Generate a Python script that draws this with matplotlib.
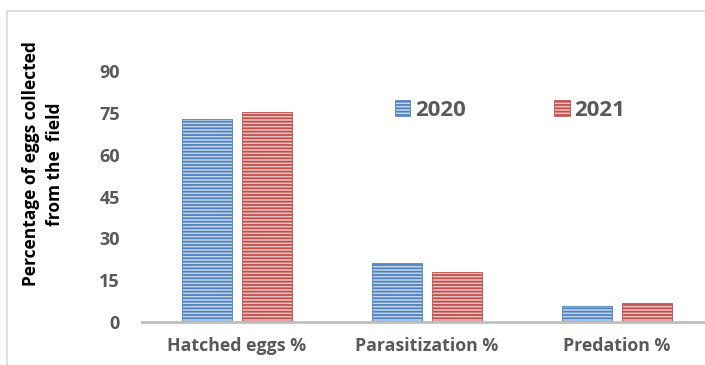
import matplotlib
matplotlib.use("Agg")
import matplotlib.pyplot as plt
import numpy as np
from matplotlib.patches import Rectangle

categories = ["Hatched eggs %", "Parasitization %", "Predation %"]
years = ["2020", "2021"]
values_2020 = [72.7, 21.3, 5.7]
values_2021 = [75.2, 17.9, 6.7]
yticks = [0, 15, 30, 45, 60, 75, 90]

plt.rcParams['font.family'] = ['Open Sans', 'DejaVu Sans']
plt.rcParams['hatch.linewidth'] = 1.3

gray = '#595959'
blue, blue_light = '#4F81BD', '#C5D6EC'
red, red_light = '#C0504D', '#EBC3C2'

fig = plt.figure(figsize=(7.05, 3.65), dpi=100)
W, H = 705, 365
ax = fig.add_axes([142 / W, 1 - 322 / H, (W - 142) / W, (322 - 71) / H])

x = np.arange(len(categories))
bw = 50 / 190
off = 30 / 190
ax.bar(x - off, values_2020, bw, facecolor=blue_light, edgecolor=blue,
       linewidth=0.6, hatch='-----', label=years[0])
ax.bar(x + off, values_2021, bw, facecolor=red_light, edgecolor=red,
       linewidth=0.6, hatch='-----', label=years[1])

ax.set_xlim(-0.5, 2.5 - 7 / 190)
ax.set_ylim(0, 90)
ax.set_yticks(yticks)
ax.set_xticks(x)
ax.set_xticklabels(categories)
ax.tick_params(axis='x', length=0, colors=gray, labelsize=12.8, pad=11)
ax.tick_params(axis='y', length=0, colors=gray, labelsize=13, pad=16)
for lab in ax.get_xticklabels() + ax.get_yticklabels():
    lab.set_fontweight('bold')

for s in ['top', 'right', 'left']:
    ax.spines[s].set_visible(False)
ax.spines['bottom'].set_color('#BFBFBF')
ax.spines['bottom'].set_linewidth(2)
ax.spines['bottom'].set_clip_on(False)

leg = ax.legend(ncol=2, loc='center', bbox_to_anchor=(510 / W, 1 - 110 / H),
                bbox_transform=fig.transFigure, frameon=False,
                prop={'weight': 'bold', 'size': 16},
                columnspacing=4.0, handlelength=0.7, handleheight=0.7,
                handletextpad=0.2)
for t in leg.get_texts():
    t.set_color(gray)

fig.text(43 / W, 1 - 164 / H, "Percentage of eggs collected\nfrom the  field",
         rotation=90, ha='center', va='center', multialignment='center',
         fontsize=12.5, fontweight='bold', color='black', linespacing=1.45)

# outer chart frame
fig.patches.append(Rectangle((7 / W, -0.1), 1.2, 1 - 11 / H + 0.1,
                             transform=fig.transFigure, fill=False,
                             edgecolor='#D9D9D9', linewidth=1.2))

fig.savefig('out.png', dpi=100)
